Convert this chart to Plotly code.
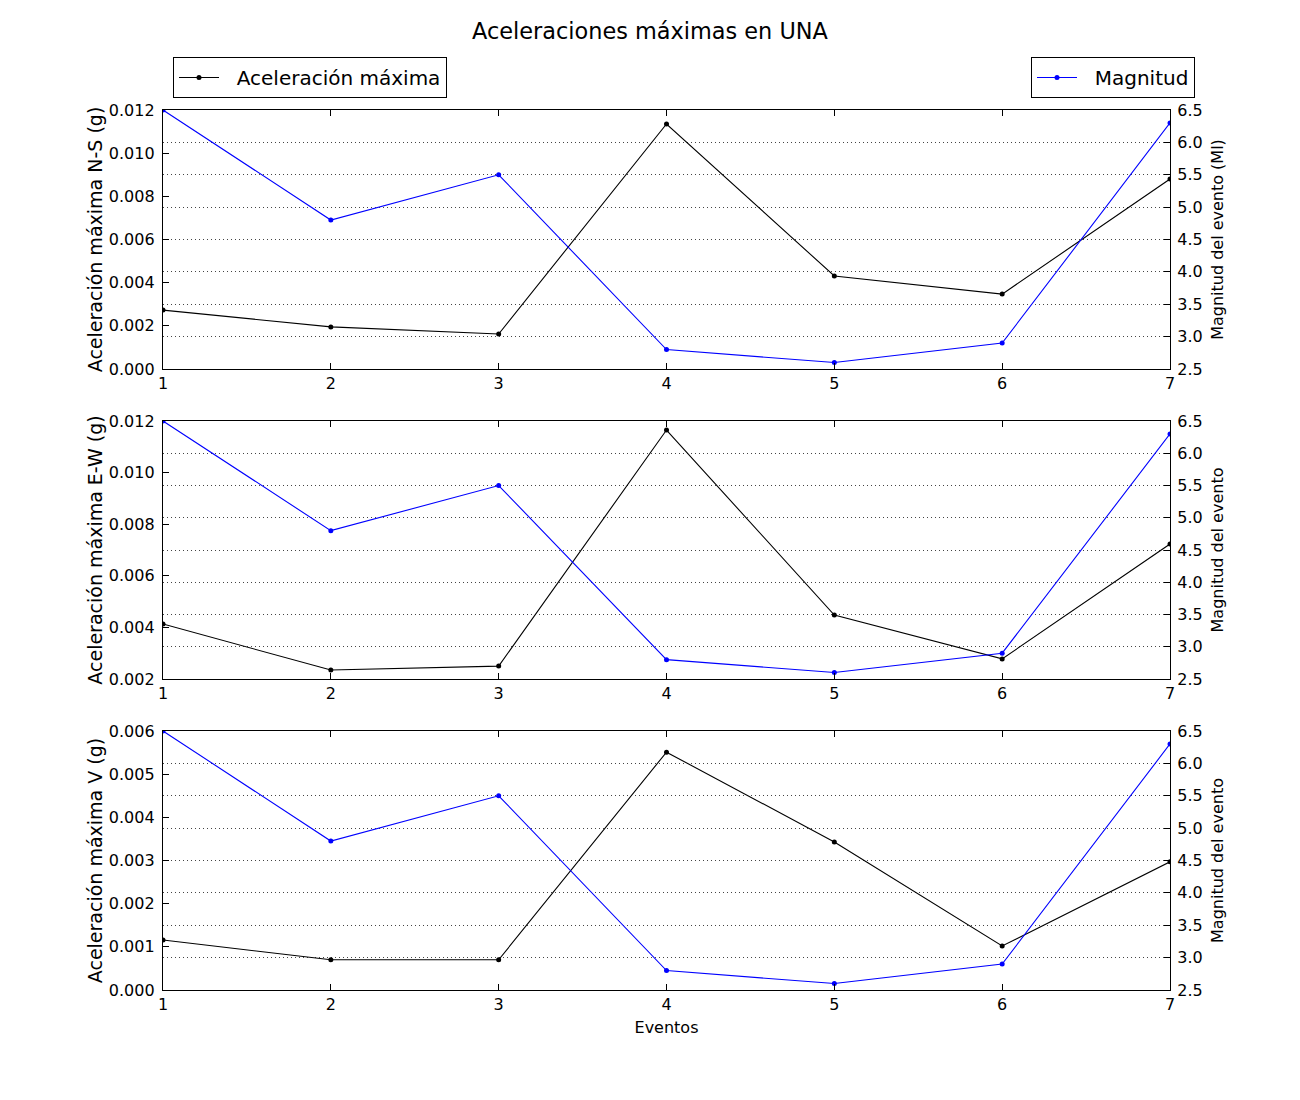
import plotly.graph_objects as go

eventos = [1, 2, 3, 4, 5, 6, 7]
magnitud = [6.5, 4.8, 5.5, 2.8, 2.6, 2.9, 6.3]
acc_ns = [0.00273, 0.00195, 0.00162, 0.01135, 0.00431, 0.00347, 0.0088]
acc_ew = [0.00413, 0.00235, 0.0025, 0.01165, 0.00448, 0.00278, 0.00723]
acc_v = [0.00116, 0.0007, 0.0007, 0.00551, 0.00343, 0.00102, 0.00297]

left_titles = ["Aceleración máxima N-S (g)", "Aceleración máxima E-W (g)", "Aceleración máxima V (g)"]
right_titles = ["Magnitud del evento (Ml)", "Magnitud del evento", "Magnitud del evento"]
left_ranges = [[0, 0.012], [0.002, 0.012], [0, 0.006]]
left_dticks = [0.002, 0.002, 0.001]
series = [acc_ns, acc_ew, acc_v]

H = 1100.0
W = 1300.0
OFF = 8.0  # page body margin
panels_px = [(110, 369), (421, 679), (731, 990)]
x_dom = [(163 - OFF) / W, (1170 - OFF) / W]

FONT = "DejaVu Sans"
NB = "\u00a0\u00a0"
fig = go.Figure()

for i in range(3):
    xa = "x" if i == 0 else f"x{i+1}"
    ya = f"y{2*i+1}" if i > 0 else "y"
    yb = f"y{2*i+2}"
    fig.add_trace(go.Scatter(
        x=eventos, y=series[i], mode="lines+markers", name=NB + "Aceleración máxima",
        line=dict(color="black", width=1.1), marker=dict(color="black", size=5),
        xaxis=xa, yaxis=ya, showlegend=(i == 0), legend="legend", cliponaxis=True))
    fig.add_trace(go.Scatter(
        x=eventos, y=magnitud, mode="lines+markers", name=NB + "Magnitud",
        line=dict(color="#0000ff", width=1.1), marker=dict(color="#0000ff", size=5),
        xaxis=xa, yaxis=yb, showlegend=(i == 0), legend="legend2", cliponaxis=True))

layout = dict(
    width=1300, height=1100,
    margin=dict(l=0, r=0, t=0, b=0, autoexpand=False),
    paper_bgcolor="white", plot_bgcolor="white",
    font=dict(family=FONT, size=16, color="black"),
    title=dict(text="Aceleraciones máximas en UNA", x=(650 - OFF) / W, xanchor="center",
               y=1 - (31 - OFF) / H, yanchor="middle", font=dict(size=22.4, family=FONT)),
    legend=dict(x=(173 - OFF) / W, y=1 - (57 - OFF) / H, xanchor="left", yanchor="top",
                bordercolor="black", borderwidth=1, bgcolor="white",
                font=dict(size=20, family=FONT), itemwidth=40),
    legend2=dict(x=(1195 - OFF) / W, y=1 - (57 - OFF) / H, xanchor="right", yanchor="top",
                 bordercolor="black", borderwidth=1, bgcolor="white",
                 font=dict(size=20, family=FONT), itemwidth=40),
)

for i in range(3):
    top, bot = panels_px[i]
    dom = [1 - (bot - OFF) / H, 1 - (top - OFF) / H]
    xkey = "xaxis" if i == 0 else f"xaxis{i+1}"
    ykey = "yaxis" if i == 0 else f"yaxis{2*i+1}"
    y2key = f"yaxis{2*i+2}"
    yname = "y" if i == 0 else f"y{2*i+1}"
    xname = "x" if i == 0 else f"x{i+1}"
    layout[xkey] = dict(
        domain=x_dom, anchor=yname, range=[1, 7], tickmode="array", tickvals=eventos,
        ticks="inside", ticklen=6, tickcolor="black", showline=True, linecolor="black",
        linewidth=1.3, mirror="ticks", showgrid=False, zeroline=False, automargin=False,
        tickfont=dict(size=16, family=FONT), ticklabelstandoff=0,
        title=dict(text="Eventos" if i == 2 else "", font=dict(size=16, family=FONT), standoff=8),
    )
    layout[ykey] = dict(
        domain=dom, anchor=xname, range=left_ranges[i], dtick=left_dticks[i],
        tick0=0, tickformat=".3f", ticks="inside", ticklen=6, tickcolor="black",
        showline=True, linecolor="black", linewidth=1.3, showgrid=False, zeroline=False,
        automargin=False, tickfont=dict(size=16, family=FONT), ticklabelstandoff=4,
        title=dict(text=left_titles[i], font=dict(size=19, family=FONT), standoff=1),
    )
    layout[y2key] = dict(
        overlaying=yname, anchor=xname, side="right", range=[2.5, 6.5], dtick=0.5,
        tick0=2.5, tickformat=".1f", ticks="inside", ticklen=6, tickcolor="black",
        showline=True, linecolor="black", linewidth=1.3, showgrid=True,
        gridcolor="#444444", gridwidth=1, griddash="1px,3px", zeroline=False,
        automargin=False, tickfont=dict(size=16, family=FONT), ticklabelstandoff=3,
        title=dict(text=right_titles[i], font=dict(size=16, family=FONT), standoff=9),
    )

fig.update_layout(**layout)
fig.write_html("out.html")
